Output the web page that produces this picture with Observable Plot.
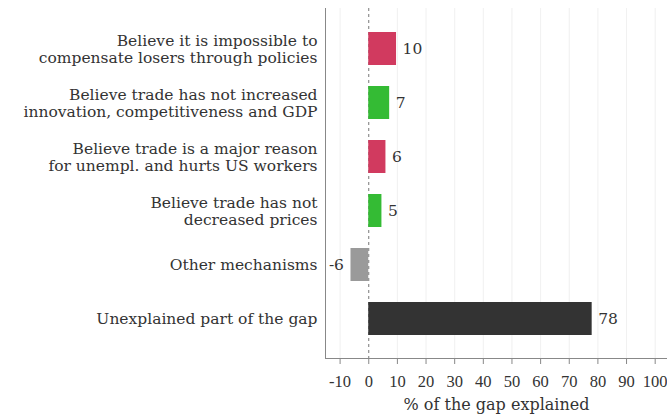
<!DOCTYPE html>
<html><head><meta charset="utf-8">
<script src="https://cdn.jsdelivr.net/npm/d3@7"></script>
<script src="https://cdn.jsdelivr.net/npm/@observablehq/plot@0.6"></script>
<style>body{margin:0;background:#fff} svg{font-family:"DejaVu Serif",serif}</style>
</head><body><div id="chart"></div>
<script>
const categories = [
  "Believe it is impossible to\ncompensate losers through policies",
  "Believe trade has not increased\ninnovation, competitiveness and GDP",
  "Believe trade is a major reason\nfor unempl. and hurts US workers",
  "Believe trade has not\ndecreased prices",
  "Other mechanisms",
  "Unexplained part of the gap"
];
const values = [9.7, 7.3, 6.0, 4.6, -6.2, 78];
const groups = ["policy", "benefit", "policy", "benefit", "other", "unexplained"];
const groupDomain = ["policy", "benefit", "other", "unexplained"];
const groupColors = ["#d13a5f", "#34bb34", "#9a9a9a", "#333333"];
const xTicks = [-10, 0, 10, 20, 30, 40, 50, 60, 70, 80, 90, 100];
const xDomain = [-15.1, 104.3];
const xLabel = "% of the gap explained";

const data = categories.map((c, i) => ({
  category: c, value: values[i], group: groups[i], label: String(Math.round(values[i]))
}));

const chart = Plot.plot({
  width: 667, height: 414,
  marginLeft: 325, marginRight: 0, marginTop: 8, marginBottom: 56,
  style: {fontFamily: "DejaVu Serif", fontSize: "15.5px", color: "#333", background: "#fff"},
  x: {domain: xDomain},
  y: {domain: categories, padding: 0.396},
  color: {domain: groupDomain, range: groupColors},
  marks: [
    Plot.gridX(xTicks.filter(d => d !== 0), {stroke: "#ccc", strokeOpacity: 0.3}),
    Plot.ruleX([0], {stroke: "#777", strokeDasharray: "3,3"}),
    Plot.barX(data, {x: "value", y: "category", fill: "group"}),
    Plot.text(data.filter(d => d.value >= 0), {x: "value", y: "category", text: "label", dx: 6, textAnchor: "start", fill: "#333", fontSize: 15.5}),
    Plot.text(data.filter(d => d.value < 0), {x: "value", y: "category", text: "label", dx: -7, textAnchor: "end", fill: "#333", fontSize: 15.5}),
    Plot.axisY({tickSize: 0, tickPadding: 8, lineHeight: 1.065, fontSize: 15.5, label: null, fill: "#333"}),
    Plot.axisX({ticks: xTicks, tickSize: 6, tickPadding: 11, tickFormat: d => String(d), stroke: "#888", fill: "#333",
      fontSize: 16.5, fontFamily: "Liberation Serif", label: null}),
    Plot.axisX({ticks: [], tickSize: 0, label: xLabel, labelArrow: "none", labelAnchor: "center", labelOffset: 51, fill: "#333", fontSize: 16}),
    Plot.frame({anchor: "bottom", stroke: "#888"}),
    Plot.frame({anchor: "left", stroke: "#888"})
  ]
});
document.getElementById("chart").append(chart);
</script></body></html>
